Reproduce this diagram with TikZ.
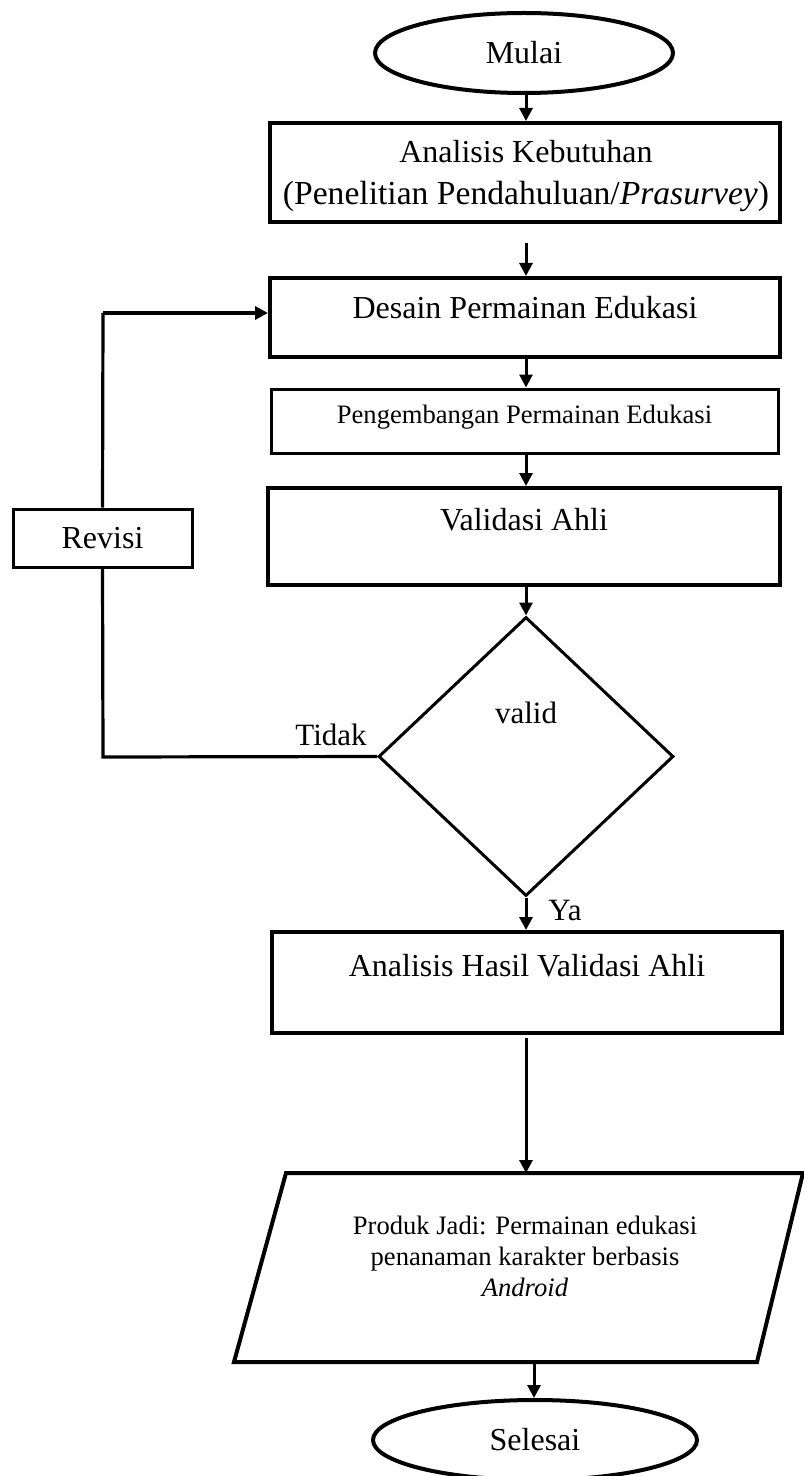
\documentclass[tikz,border=0pt]{standalone}
\usepackage{fontspec}
\setmainfont{Liberation Serif}
\usetikzlibrary{arrows.meta,shapes.geometric}
\begin{document}
\begin{tikzpicture}[x=0.5pt,y=-0.5pt,
  box/.style={draw, line width=2pt, rectangle, inner sep=0pt},
  thinbox/.style={draw, line width=1.5pt, rectangle, inner sep=0pt},
  oval/.style={draw, line width=2pt, ellipse, inner sep=0pt},
  lbl/.style={inner sep=0pt, font=\fontsize{16pt}{19pt}\selectfont},
  small/.style={inner sep=0pt, font=\fontsize{13.3pt}{15.5pt}\selectfont, align=center},
  arr/.style={line width=1.5pt, -{Triangle[length=6.5pt,width=6.5pt]}},
  con/.style={line width=1.6pt},
  lab/.style={inner sep=0pt, font=\fontsize{15.5pt}{18pt}\selectfont}]
\useasboundingbox (0,0) rectangle (803,1476);

% nodes
\node[oval, minimum width=149pt, minimum height=40pt, lbl] (mulai) at (524,53) {Mulai};
\node[box, minimum width=255pt, minimum height=49.5pt] (ak) at (525,172.5) {};
\node[inner sep=0pt, align=center, font=\fontsize{16pt}{21pt}\selectfont] (akt) at (526,176)
      {Analisis Kebutuhan\\{\fontsize{16.8pt}{21pt}\selectfont(Penelitian Pendahuluan/\textit{Prasurvey})}};
\node[box, minimum width=255pt, minimum height=39.5pt] (desain) at (525,317.5) {};
\node[lbl] (desaint) at (525,308) {Desain Permainan Edukasi};
\node[thinbox, minimum width=253.5pt, minimum height=32pt] (peng) at (524.5,421) {};
\node[small] (pengt) at (524.5,417) {Pengembangan Permainan Edukasi};
\node[box, minimum width=256pt, minimum height=48.5pt] (valbox) at (524,536.5) {};
\node[lbl] (valboxt) at (524,520) {Validasi Ahli};
\node[thinbox, minimum width=89.5pt, minimum height=29pt, lbl] (revisi) at (102.5,538) {Revisi};
\node[draw, line width=1.5pt, diamond, minimum width=147.5pt, minimum height=139.5pt, inner sep=0pt] (dec) at (526,756.5) {};
\node[lab] (validt) at (526,713) {valid};
\node[lab] (tidak) at (331,735) {Tidak};
\node[lab] (ya) at (565,910) {Ya};
\node[box, minimum width=255pt, minimum height=50.5pt] (ahv) at (527,982.5) {};
\node[lbl] (ahvt) at (527,966) {Analisis Hasil Validasi Ahli};

% parallelogram
\coordinate (p1) at (286,1173);
\coordinate (p2) at (803,1173);
\coordinate (p3) at (757,1362);
\coordinate (p4) at (234,1362);
\draw[line width=2pt, line join=miter] (p1) -- (p2) -- (p3) -- (p4) -- cycle;
\coordinate (prodtop) at (526,1173);
\coordinate (prodbot) at (534,1362);
\node[small] (prodt) at (525,1256) {Produk Jadi: Permainan edukasi\\penanaman karakter berbasis\\\textit{Android}};

\node[oval, minimum width=162pt, minimum height=40pt, lbl] (selesai) at (535,1440) {Selesai};

% connectors
\draw[arr] (mulai.south -| 526,0) -- (526,0 |- ak.north);
\coordinate (akout) at (526,243);
\draw[arr] (akout) -- (526,0 |- desain.north);
\draw[arr] (526,0 |- desain.south) -- (526,0 |- peng.north);
\draw[arr] (526,0 |- peng.south) -- (526,0 |- valbox.north);
\draw[arr] (526,0 |- valbox.south) -- (dec.north);
\draw[arr] (dec.south) -- (526,0 |- ahv.north);
\coordinate (ahvout) at (526,1038);
\draw[arr] (ahvout) -- (prodtop);
\draw[arr] (prodbot) -- (534,0 |- selesai.north);

\coordinate (lc) at (103,757);
\coordinate (tc) at (103,313);
\draw[con] (dec.west) -- (lc) -- (revisi.south);
\draw[con] (revisi.north) -- (tc);
\draw[arr, line width=1.6pt] (tc) -- (tc -| desain.west);
\end{tikzpicture}
\end{document}
